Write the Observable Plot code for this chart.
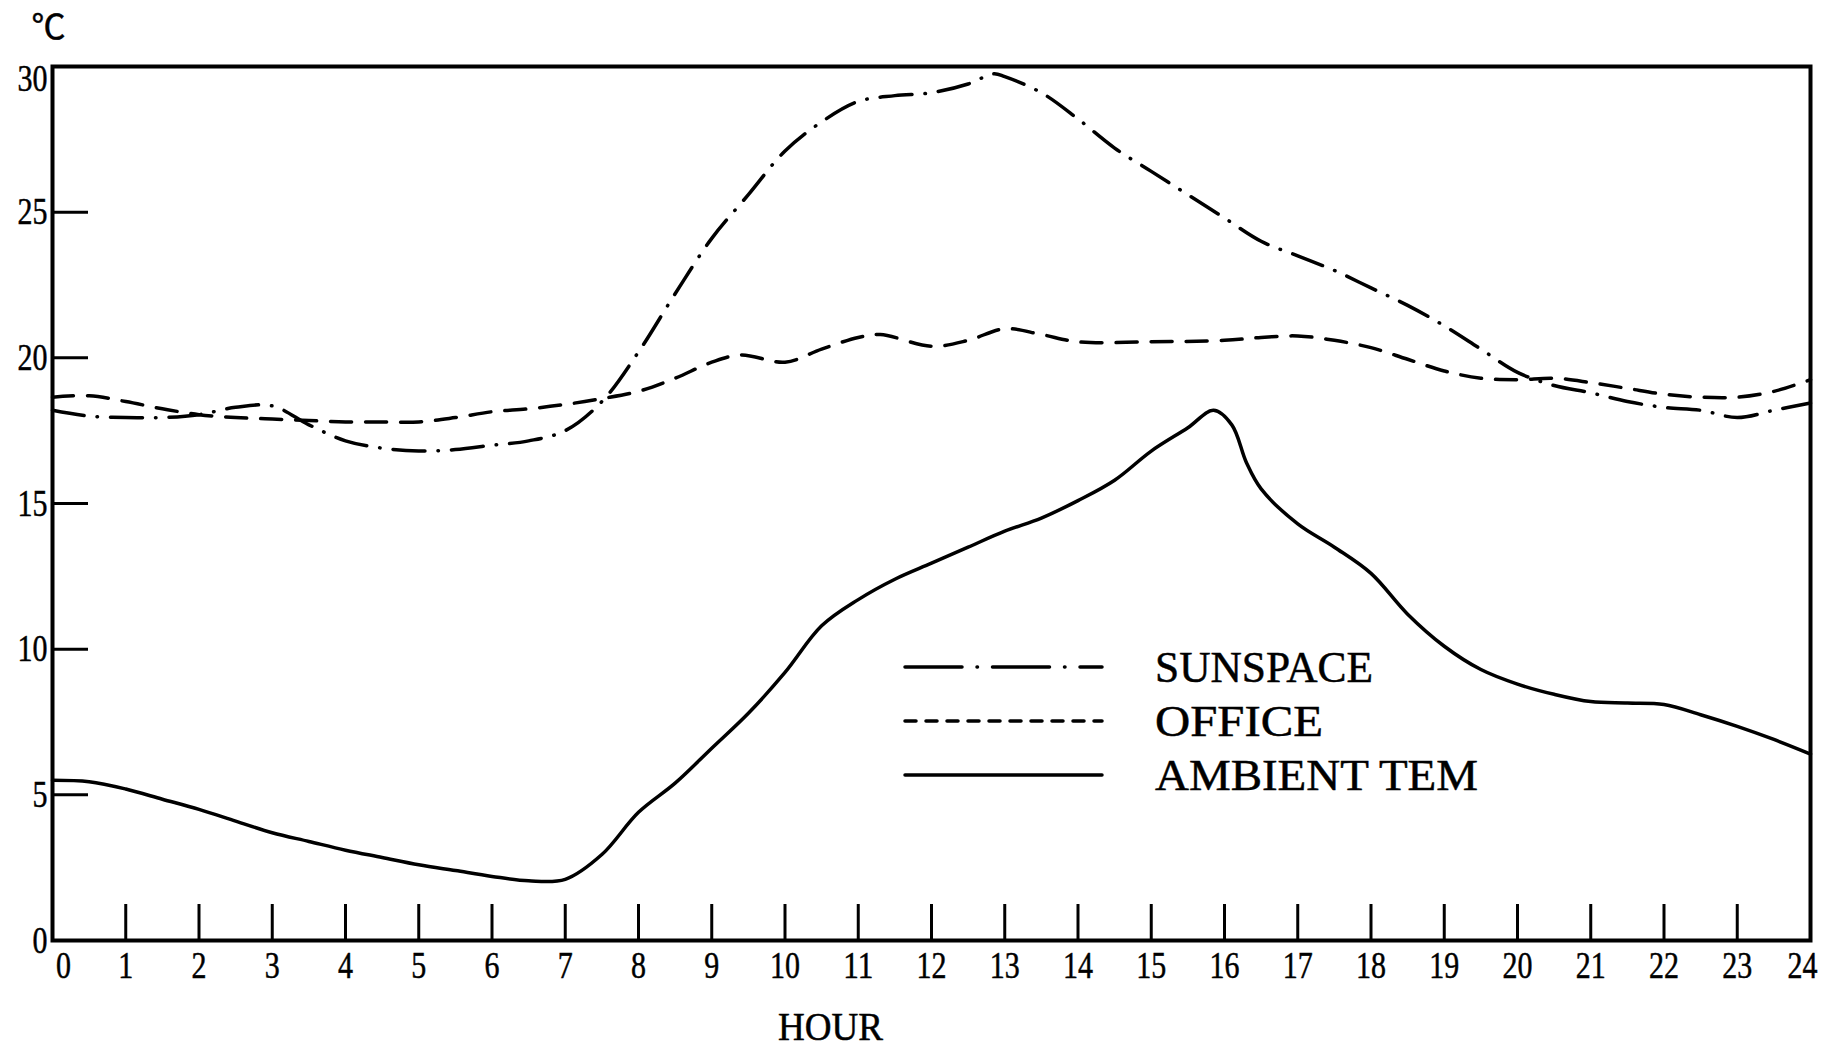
<!DOCTYPE html>
<html><head><meta charset="utf-8">
<script src="https://cdn.jsdelivr.net/npm/d3@7"></script>
<script src="https://cdn.jsdelivr.net/npm/@observablehq/plot@0.6"></script>
<style>
html,body{margin:0;padding:0;background:#fff;overflow:hidden;}
#wrap{position:relative;width:1825px;height:1050px;}
#wrap svg{display:block;}
#legend{position:absolute;left:0;top:0;}
svg text{stroke:#000;stroke-width:0.5px;}
</style></head><body><div id="wrap"></div>
<script>
// ---- data ----
const hourTicks = [0,1,2,3,4,5,6,7,8,9,10,11,12,13,14,15,16,17,18,19,20,21,22,23,24];
const tempTicks = [0,5,10,15,20,25,30];
const hourTickMarks = [1,2,3,4,5,6,7,8,9,10,11,12,13,14,15,16,17,18,19,20,21,22,23];
const tempTickMarks = [5,10,15,20,25];

const sunHours = [0,0.5,1,1.5,2,2.5,3,3.5,4,4.5,5,5.5,6,6.5,7,7.5,8,8.5,9,9.5,10,10.5,11,11.5,12,12.5,12.85,13,13.5,14,14.5,15,15.5,16,16.5,17,17.5,18,18.5,19,19.5,20,20.5,21,21.5,22,22.5,23,23.5,24];
const sunTemps = [18.2,18.0,17.95,17.95,18.05,18.3,18.35,17.7,17.15,16.9,16.8,16.85,17.0,17.15,17.5,18.5,20.2,22.2,24.1,25.6,27.1,28.1,28.8,29.0,29.1,29.4,29.75,29.65,29.1,28.2,27.2,26.4,25.6,24.8,24.0,23.5,23.0,22.4,21.8,21.1,20.3,19.5,19.05,18.8,18.5,18.3,18.2,17.95,18.2,18.45];

const officeHours = [0,0.5,1,1.5,2,2.5,3,3.5,4,4.5,5,5.5,6,6.5,7,7.5,8,8.5,9,9.4,10,10.5,11,11.3,12,12.5,13,13.5,14,15,16,16.5,17,17.5,18,18.5,19,19.5,20,20.5,21,21.5,22,22.5,23,23.5,24];
const officeTemps = [18.65,18.7,18.5,18.25,18.05,17.95,17.9,17.85,17.8,17.8,17.8,17.95,18.15,18.25,18.4,18.6,18.85,19.3,19.85,20.1,19.85,20.3,20.7,20.8,20.4,20.6,21.0,20.8,20.55,20.55,20.6,20.7,20.75,20.6,20.35,19.95,19.55,19.3,19.25,19.3,19.15,18.95,18.75,18.65,18.65,18.85,19.25];

const ambHours = [0,0.5,1,1.5,2,2.5,3,3.5,4,4.5,5,5.5,6,6.5,7,7.5,8,8.5,9,9.5,10,10.5,11,11.5,12,12.5,13,13.5,14,14.5,15,15.5,15.85,16.1,16.3,16.5,17,17.5,18,18.5,19,19.5,20,20.5,21,21.5,22,22.5,23,23.5,24];
const ambTemps = [5.5,5.45,5.2,4.85,4.5,4.1,3.7,3.4,3.1,2.85,2.6,2.4,2.2,2.05,2.1,2.95,4.4,5.4,6.6,7.8,9.2,10.8,11.7,12.4,12.95,13.5,14.05,14.5,15.1,15.8,16.8,17.6,18.2,17.7,16.4,15.5,14.3,13.5,12.6,11.2,10.1,9.3,8.8,8.45,8.2,8.15,8.1,7.75,7.35,6.9,6.4];

const legendLabels = ["SUNSPACE", "OFFICE", "AMBIENT TEM"];
const xLabel = "HOUR";
const yUnit = "℃";

// ---- styles ----
const serif = "'Liberation Serif', 'DejaVu Serif', serif";
const sunDash = "32 13 0.5 13";
const officeDash = "21 14";
const lineW = 3.5;

const chart = Plot.plot({
  width: 1825, height: 1050,
  marginLeft: 52, marginRight: 15, marginTop: 66, marginBottom: 110,
  style: {background: "#fff", color: "#000", fontFamily: serif},
  x: {domain: [0, 24], label: null},
  y: {domain: [0, 30], label: null},
  marks: [
    Plot.axisX({ticks: hourTickMarks, tickSize: 36, dy: -36, strokeWidth: 3, fill: "none", label: null}),
    Plot.axisY({ticks: tempTickMarks, tickSize: 36, dx: 36, strokeWidth: 3, fill: "none", label: null}),
    Plot.axisX({ticks: hourTicks, tickSize: 0, tickPadding: 11, fontSize: 38, label: null, tickFormat: d => String(d)}),
    Plot.axisY({ticks: tempTicks, tickSize: 0, tickPadding: 5, fontSize: 38, label: null, tickFormat: d => String(d)}),
    Plot.frame({stroke: "#000", strokeWidth: 4}),
    Plot.line(sunTemps, {x: sunHours, y: sunTemps, stroke: "#000", strokeWidth: lineW, strokeDasharray: sunDash, strokeLinecap: "round", curve: "catmull-rom"}),
    Plot.line(officeTemps, {x: officeHours, y: officeTemps, stroke: "#000", strokeWidth: lineW, strokeDasharray: officeDash, strokeLinecap: "round", curve: "catmull-rom"}),
    Plot.line(ambTemps, {x: ambHours, y: ambTemps, stroke: "#000", strokeWidth: lineW, curve: "catmull-rom"}),
    Plot.text([xLabel], {text: d => d, frameAnchor: "bottom", dx: -101, dy: 87, fontSize: 40, lineAnchor: "middle", fill: "#000"}),
    Plot.text([yUnit], {text: d => d, frameAnchor: "top-left", dx: -21, dy: -38, fontSize: 34, lineAnchor: "middle", fill: "#000", fontFamily: "'Noto Sans CJK SC', 'DejaVu Serif', serif"})
  ]
});

const wrap = document.getElementById("wrap");
wrap.appendChild(chart);

// condense axis tick labels like the printed original
const svgSel = d3.select(chart);
svgSel.selectAll("g[aria-label*='tick label']").each(function() {
  const isX = (this.getAttribute("aria-label") || "").startsWith("x");
  const texts = d3.select(this).selectAll("text").nodes();
  texts.forEach((t) => {
    const s = t.textContent;
    t.setAttribute("textLength", 15 * s.length);
    t.setAttribute("lengthAdjust", "spacingAndGlyphs");
    if (isX && s === "0") t.setAttribute("dx", 11);
    if (isX && s === "24") t.setAttribute("dx", -8);
    if (!isX && s === "30") t.setAttribute("dy", 12);
  });
});
svgSel.selectAll("text").filter(function() { return this.textContent === xLabel; })
  .attr("textLength", 105).attr("lengthAdjust", "spacingAndGlyphs");

// legend overlay
const legendDash = [ "57 15 0.5 15", "11 10", null ];
const legendTextLen = [218, 168, 323];
const leg = d3.select(wrap).append("svg").attr("id", "legend")
  .attr("width", 1825).attr("height", 1050);
legendLabels.forEach((lab, i) => {
  const y = 667 + i * 54;
  leg.append("line").attr("x1", 905).attr("x2", 1102).attr("y1", y).attr("y2", y)
    .attr("stroke", "#000").attr("stroke-width", lineW)
    .attr("stroke-linecap", "round")
    .attr("stroke-dasharray", legendDash[i]);
  leg.append("text").attr("x", 1155).attr("y", y + 15)
    .attr("font-family", serif).attr("font-size", 44).attr("fill", "#000")
    .attr("textLength", legendTextLen[i]).attr("lengthAdjust", "spacingAndGlyphs")
    .text(lab);
});
</script></body></html>
